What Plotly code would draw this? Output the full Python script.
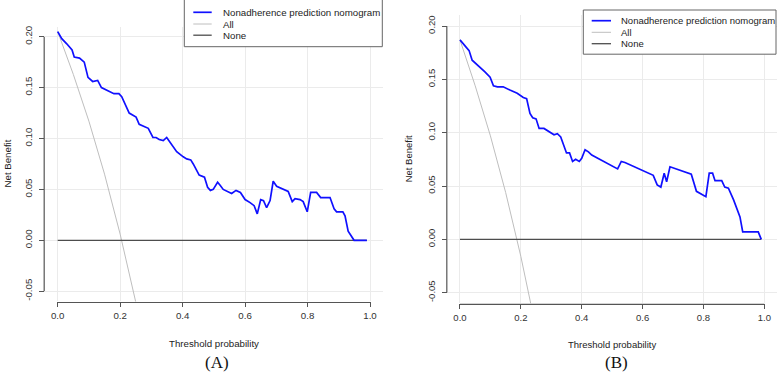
import plotly.graph_objects as go

W, H = 777, 373

# ---------------- data ----------------
a_threshold = [0.000, 0.013, 0.029, 0.046, 0.053, 0.070, 0.085, 0.097, 0.112, 0.128,
               0.140, 0.160, 0.180, 0.196, 0.205, 0.229, 0.242, 0.251, 0.261, 0.274,
               0.290, 0.305, 0.315, 0.325, 0.338, 0.349, 0.362, 0.381, 0.402, 0.413,
               0.426, 0.434, 0.453, 0.466, 0.470, 0.480, 0.489, 0.498, 0.512, 0.520,
               0.530, 0.557, 0.571, 0.585, 0.600, 0.616, 0.629, 0.639, 0.650, 0.659,
               0.669, 0.680, 0.690, 0.701, 0.717, 0.738, 0.751, 0.760, 0.776, 0.786,
               0.799, 0.810, 0.829, 0.842, 0.872, 0.885, 0.893, 0.913, 0.920, 0.930,
               0.949, 0.990]
a_model = [0.205, 0.198, 0.193, 0.187, 0.180, 0.179, 0.175, 0.160, 0.156, 0.157,
           0.150, 0.147, 0.144, 0.144, 0.141, 0.125, 0.123, 0.121, 0.114, 0.112,
           0.110, 0.101, 0.101, 0.099, 0.098, 0.101, 0.095, 0.087, 0.082, 0.080,
           0.079, 0.075, 0.064, 0.062, 0.062, 0.052, 0.049, 0.050, 0.057, 0.054,
           0.050, 0.046, 0.049, 0.047, 0.040, 0.037, 0.034, 0.026, 0.040, 0.039,
           0.032, 0.039, 0.058, 0.053, 0.051, 0.048, 0.038, 0.041, 0.040, 0.038,
           0.028, 0.047, 0.047, 0.042, 0.042, 0.031, 0.028, 0.028, 0.024, 0.009,
           0.000, 0.000]
a_all_threshold = [0.00, 0.05, 0.10, 0.15, 0.20, 0.25, 0.26]
a_all = [0.205, 0.163, 0.117, 0.065, 0.006, -0.060, -0.074]

b_threshold = [0.000, 0.011, 0.020, 0.030, 0.040, 0.060, 0.082, 0.099, 0.110, 0.123,
               0.142, 0.164, 0.188, 0.208, 0.219, 0.230, 0.239, 0.250, 0.260, 0.276,
               0.294, 0.309, 0.320, 0.331, 0.350, 0.360, 0.370, 0.380, 0.392, 0.400,
               0.411, 0.422, 0.433, 0.518, 0.530, 0.542, 0.635, 0.648, 0.660, 0.671,
               0.679, 0.690, 0.760, 0.777, 0.808, 0.819, 0.830, 0.838, 0.860, 0.870,
               0.882, 0.899, 0.920, 0.929, 0.980, 0.990]
b_model = [0.187, 0.183, 0.180, 0.177, 0.168, 0.163, 0.157, 0.152, 0.144, 0.143,
           0.143, 0.140, 0.137, 0.133, 0.132, 0.118, 0.114, 0.113, 0.104, 0.104,
           0.101, 0.098, 0.099, 0.096, 0.081, 0.081, 0.073, 0.075, 0.073, 0.076,
           0.084, 0.082, 0.079, 0.066, 0.073, 0.072, 0.060, 0.051, 0.049, 0.062,
           0.054, 0.068, 0.061, 0.045, 0.040, 0.062, 0.062, 0.055, 0.055, 0.049,
           0.048, 0.037, 0.021, 0.007, 0.007, 0.000]
b_all_threshold = [0.00, 0.05, 0.10, 0.15, 0.20, 0.25]
b_all = [0.187, 0.144, 0.097, 0.044, -0.016, -0.084]

none_threshold = [0.0, 0.99]
none_value = [0.0, 0.0]

x_ticks = [0.0, 0.2, 0.4, 0.6, 0.8, 1.0]
x_tick_labels = ["0.0", "0.2", "0.4", "0.6", "0.8", "1.0"]
y_ticks = [-0.05, 0.0, 0.05, 0.10, 0.15, 0.20]
y_tick_labels = ["-0.05", "0.00", "0.05", "0.10", "0.15", "0.20"]

legend_labels = ["Nonadherence prediction nomogram", "All", "None"]
panel_labels = ["(A)", "(B)"]
x_title = "Threshold probability"
y_title = "Net Benefit"

# ---------------- styles ----------------
BLUE = "#1010FF"
ALL_C = "#BEBEBE"
NONE_C = "#4D4D4D"
AXIS_C = "#555555"
TEXT_C = "#333333"
GRID_C = "#EBEBEB"
FONT = "Liberation Sans, Arial, sans-serif"


def px(x):
    return x / W


def py(y):
    return 1 - y / H


fig = go.Figure()

panels = [
    dict(t=a_threshold, m=a_model, at=a_all_threshold, a=a_all, xa="x", ya="y",
         xdom=(45.2, 382.5), ydom=(26.5, 301.4), fs=9.7),
    dict(t=b_threshold, m=b_model, at=b_all_threshold, a=b_all, xa="x2", ya="y2",
         xdom=(447.8, 776.5), ydom=(15.4, 303.3), fs=9.5),
]

for p in panels:
    fig.add_trace(go.Scatter(x=p["at"], y=p["a"], mode="lines", xaxis=p["xa"], yaxis=p["ya"],
                             line=dict(color=ALL_C, width=1), showlegend=False, hoverinfo="skip"))
    fig.add_trace(go.Scatter(x=none_threshold, y=none_value, mode="lines", xaxis=p["xa"], yaxis=p["ya"],
                             line=dict(color=NONE_C, width=1.3), showlegend=False, hoverinfo="skip"))
    fig.add_trace(go.Scatter(x=p["t"], y=p["m"], mode="lines", xaxis=p["xa"], yaxis=p["ya"],
                             line=dict(color=BLUE, width=1.7), showlegend=False))

axis_common = dict(showgrid=True, gridcolor=GRID_C, gridwidth=1, zeroline=False, showline=False,
                   ticks="outside", ticklen=5, tickwidth=1, tickcolor=AXIS_C, tickmode="array")

layout = dict(width=W, height=H, margin=dict(l=0, r=0, t=0, b=0),
              paper_bgcolor="white", plot_bgcolor="white", showlegend=False,
              font=dict(family=FONT, color=TEXT_C))

shapes = []
annotations = []

legend_geo = [
    dict(box=(184.3, -1, 382.3, 46.7), rows=(12.3, 24.0, 35.2), line=(193.3, 211.7), text=220.5, fs=9.7),
    dict(box=(583.3, 10.0, 776.0, 54.2), rows=(20.7, 32.3, 43.7), line=(591.7, 611.0), text=619.0, fs=9.5),
]
title_geo = [
    dict(ytitle=(6.5, 164), xtitle=(213.8, 343.5), panel=(216.7, 362.5)),
    dict(ytitle=(408.3, 159), xtitle=(612.0, 344.0), panel=(616.7, 362.5)),
]

for i, p in enumerate(panels):
    sfx = "" if i == 0 else "2"
    layout["xaxis" + sfx] = dict(axis_common, domain=[px(p["xdom"][0]), px(p["xdom"][1])],
                                 range=[-0.04, 1.04], anchor="y" + sfx,
                                 tickvals=x_ticks, ticktext=x_tick_labels,
                                 tickfont=dict(size=p["fs"], color=TEXT_C, family=FONT))
    layout["yaxis" + sfx] = dict(axis_common, domain=[py(p["ydom"][1]), py(p["ydom"][0])],
                                 range=[-0.06, 0.21], anchor="x" + sfx,
                                 tickvals=y_ticks, ticktext=y_tick_labels, tickangle=-90,
                                 ticklabelstandoff=3,
                                 tickfont=dict(size=p["fs"], color=TEXT_C, family=FONT))
    # axis lines spanning tick range (R style)
    shapes.append(dict(type="line", xref="x" + sfx + " domain", yref="y" + sfx,
                       x0=-0.003, x1=-0.003, y0=min(y_ticks), y1=max(y_ticks),
                       line=dict(color=AXIS_C, width=1.2)))
    shapes.append(dict(type="line", xref="x" + sfx, yref="y" + sfx + " domain",
                       x0=min(x_ticks), x1=max(x_ticks), y0=-0.004, y1=-0.004,
                       line=dict(color=AXIS_C, width=1.2)))
    # legend box
    g = legend_geo[i]
    shapes.append(dict(type="rect", xref="paper", yref="paper",
                       x0=px(g["box"][0]), x1=px(g["box"][2]), y0=py(g["box"][3]), y1=py(g["box"][1]),
                       line=dict(color="#666666", width=1), fillcolor="white", layer="above"))
    for lab, col, wid, ry in zip(legend_labels, [BLUE, ALL_C, NONE_C], [1.7, 1, 1.3], g["rows"]):
        shapes.append(dict(type="line", xref="paper", yref="paper",
                           x0=px(g["line"][0]), x1=px(g["line"][1]), y0=py(ry), y1=py(ry),
                           line=dict(color=col, width=wid), layer="above"))
        annotations.append(dict(text=lab, xref="paper", yref="paper", x=px(g["text"]), y=py(ry),
                                xanchor="left", yanchor="middle", showarrow=False,
                                font=dict(size=g["fs"], color="#222222", family=FONT)))
    tg = title_geo[i]
    annotations.append(dict(text=y_title, xref="paper", yref="paper", x=px(tg["ytitle"][0]),
                            y=py(tg["ytitle"][1]), textangle=-90, showarrow=False,
                            xanchor="center", yanchor="middle",
                            font=dict(size=p["fs"], color="#222222", family=FONT)))
    annotations.append(dict(text=x_title, xref="paper", yref="paper", x=px(tg["xtitle"][0]),
                            y=py(tg["xtitle"][1]), showarrow=False,
                            xanchor="center", yanchor="middle",
                            font=dict(size=p["fs"], color="#222222", family=FONT)))
    annotations.append(dict(text=panel_labels[i], xref="paper", yref="paper", x=px(tg["panel"][0]),
                            y=py(tg["panel"][1]), showarrow=False,
                            xanchor="center", yanchor="middle",
                            font=dict(size=17, color="#111111", family="Liberation Serif, serif")))

layout["shapes"] = shapes
layout["annotations"] = annotations
fig.update_layout(**layout)

fig.write_html(
    "out.html",
    config={"displayModeBar": False},
    post_script="document.body.style.margin='0px';document.body.style.overflow='hidden';",
)
